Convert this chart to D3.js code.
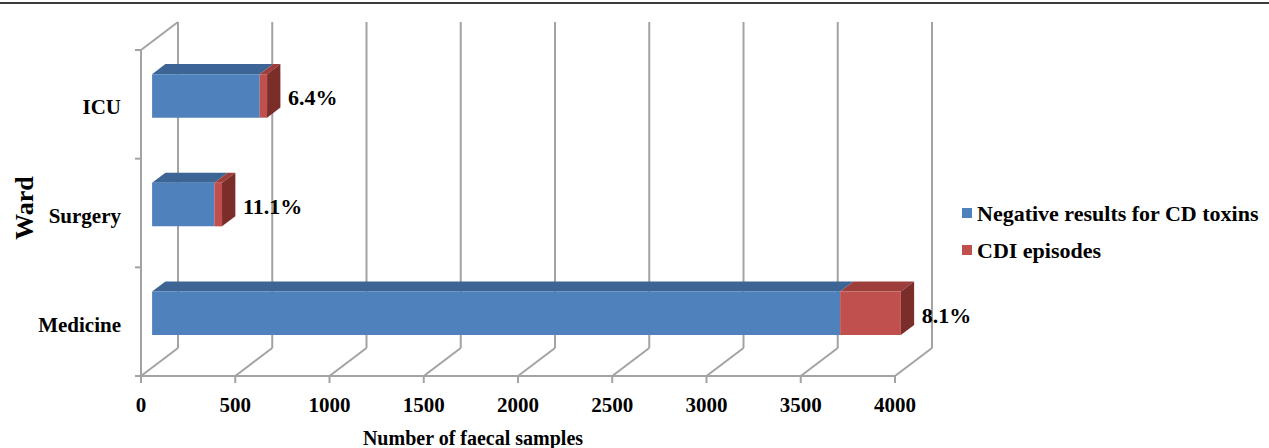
<!DOCTYPE html>
<html>
<head>
<meta charset="utf-8">
<script src="https://cdn.jsdelivr.net/npm/d3@7"></script>
<style>
  html, body { margin: 0; padding: 0; background: #fff; }
  svg { display: block; }
  text { font-family: "Liberation Serif", "Times New Roman", serif; font-weight: bold; fill: #000; }
</style>
</head>
<body>
<svg id="chart" width="1269" height="448"></svg>
<script>
// Faecal samples per ward, split into negative toxin results and CDI episodes
const wards = ["Medicine", "Surgery", "ICU"];
const negativeResults = [3650, 330, 571];
const cdiEpisodes = [322, 41, 39];
const xTicks = [0, 500, 1000, 1500, 2000, 2500, 3000, 3500, 4000];
const seriesNames = ["Negative results for CD toxins", "CDI episodes"];

const W = 1269, H = 448;
const svg = d3.select("#chart");

// Front plane of the 3-D box; depth is projected as a shift up and to the right
const x = d3.scaleLinear().domain([0, 4000]).range([141, 895]);
const y = d3.scaleBand().domain(wards).range([376, 50]);
const DX = 37, DY = -28;
const proj = (px, py, d) => [px + d * DX, py + d * DY];
const dFront = 0.3, dBack = 0.66;

const gridColor = "#a3a3a3";
const colors = {
  neg: { front: "#4f81bd", top: "#3c6596" },
  cdi: { front: "#c0504d", top: "#9e3e3b", side: "#7b2d2a" }
};

// Frame line along the top edge
svg.append("line").attr("x1", 0).attr("x2", W).attr("y1", 3).attr("y2", 3)
  .attr("stroke", "#3a3a3a").attr("stroke-width", 2);

const grid = svg.append("g").attr("stroke", gridColor).attr("stroke-width", 2).attr("fill", "none");
const yTop = y.range()[1], yBot = y.range()[0];

// Back wall verticals
xTicks.forEach(t => {
  const [bx, by0] = proj(x(t), yTop, 1);
  const [, by1] = proj(x(t), yBot, 1);
  grid.append("line").attr("x1", bx).attr("x2", bx).attr("y1", by0).attr("y2", by1);
  // floor diagonals
  grid.append("line").attr("x1", x(t)).attr("y1", yBot)
    .attr("x2", proj(x(t), yBot, 1)[0]).attr("y2", proj(x(t), yBot, 1)[1]);
  // tick marks below the floor edge
  grid.append("line").attr("x1", x(t)).attr("x2", x(t)).attr("y1", yBot).attr("y2", yBot + 7);
});
// Floor front edge
grid.append("line").attr("x1", x(0)).attr("x2", x(4000)).attr("y1", yBot).attr("y2", yBot);
// Side wall front edge and top diagonal
grid.append("line").attr("x1", x(0)).attr("x2", x(0)).attr("y1", yTop).attr("y2", yBot);
grid.append("line").attr("x1", x(0)).attr("y1", yTop)
  .attr("x2", proj(x(0), yTop, 1)[0]).attr("y2", proj(x(0), yTop, 1)[1]);
// Category boundary ticks
const bounds = wards.map(w => y(w)).concat([yBot]);
bounds.forEach(b => {
  grid.append("line").attr("x1", x(0) - 6).attr("x2", x(0)).attr("y1", b).attr("y2", b);
});

// Bars
const barG = svg.append("g");
const poly = pts => pts.map(p => p.join(",")).join(" ");
wards.forEach((w, i) => {
  const c = y(w) + y.bandwidth() / 2;
  const h = y.bandwidth() * 0.4;
  const yt = c - h / 2, yb = c + h / 2;
  const segs = [
    { v0: 0, v1: negativeResults[i], col: colors.neg },
    { v0: negativeResults[i], v1: negativeResults[i] + cdiEpisodes[i], col: colors.cdi }
  ];
  segs.forEach((s, k) => {
    const xl = x(s.v0), xr = x(s.v1);
    // top face
    barG.append("polygon")
      .attr("points", poly([proj(xl, yt, dFront), proj(xr, yt, dFront), proj(xr, yt, dBack), proj(xl, yt, dBack)]))
      .attr("fill", s.col.top);
    // front face
    barG.append("polygon")
      .attr("points", poly([proj(xl, yt, dFront), proj(xr, yt, dFront), proj(xr, yb, dFront), proj(xl, yb, dFront)]))
      .attr("fill", s.col.front);
    if (k === segs.length - 1) {
      barG.append("polygon")
        .attr("points", poly([proj(xr, yt, dFront), proj(xr, yt, dBack), proj(xr, yb, dBack), proj(xr, yb, dFront)]))
        .attr("fill", s.col.side);
    }
  });
  // share of CDI episodes
  const total = negativeResults[i] + cdiEpisodes[i];
  const pct = (cdiEpisodes[i] / total * 100).toFixed(1) + "%";
  const [lx, ly] = proj(x(total), c, dFront);
  svg.append("text").attr("x", lx + 21).attr("y", ly + 2)
    .attr("dominant-baseline", "central").style("font-size", "22px").text(pct);
  // ward label
  svg.append("text").attr("x", 121).attr("y", c + 3)
    .attr("text-anchor", "end").attr("dominant-baseline", "central")
    .style("font-size", "21px").text(w);
});

// X tick labels
xTicks.forEach(t => {
  svg.append("text").attr("x", x(t)).attr("y", 412).attr("text-anchor", "middle")
    .style("font-size", "21px").text(t);
});

// Axis titles
svg.append("text").attr("x", 473).attr("y", 445).attr("text-anchor", "middle")
  .style("font-size", "20px").text("Number of faecal samples");
svg.append("text").attr("transform", "translate(33,208) rotate(-90)")
  .attr("text-anchor", "middle").style("font-size", "26px").text("Ward");

// Legend
const legend = svg.append("g");
[colors.neg.front, colors.cdi.front].forEach((col, i) => {
  const ly = 213 + i * 37;
  legend.append("rect").attr("x", 962).attr("y", ly - 5).attr("width", 10).attr("height", 10).attr("fill", col);
  legend.append("text").attr("x", 977).attr("y", ly).attr("dominant-baseline", "central")
    .style("font-size", "22px").text(seriesNames[i]);
});
</script>
</body>
</html>
